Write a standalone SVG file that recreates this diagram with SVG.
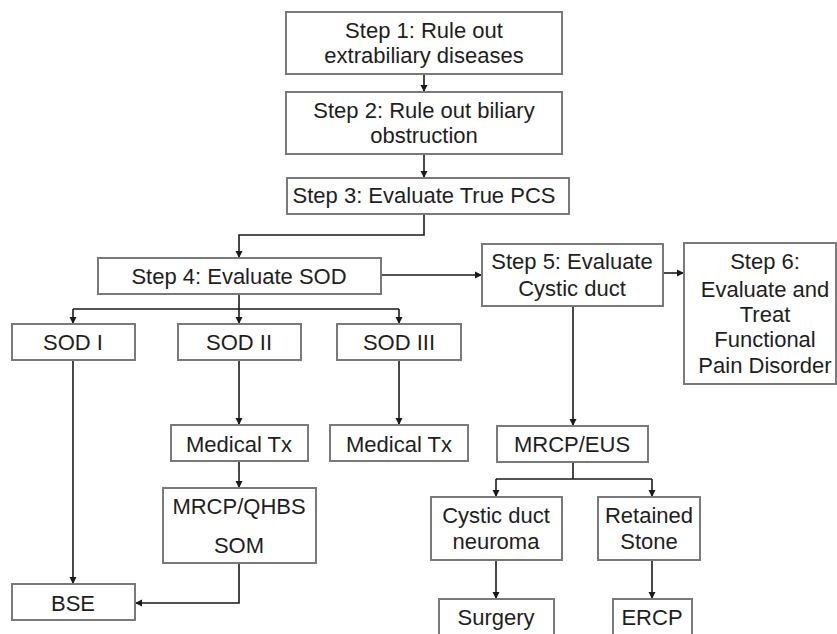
<svg xmlns="http://www.w3.org/2000/svg" width="837" height="634" viewBox="0 0 837 634">
<defs>
<marker id="ah" markerWidth="8" markerHeight="8" refX="7" refY="4" orient="auto" markerUnits="userSpaceOnUse">
<path d="M0,0.5 L7,4 L0,7.5 z" fill="#1a1a1a"/>
</marker>
<style>
.box{fill:#fff;stroke:#7a7a7a;stroke-width:2}
.t{font-family:"Liberation Sans",Arial,sans-serif;font-size:22px;fill:#1e1e1e;text-anchor:middle}
.c{fill:none;stroke:#1a1a1a;stroke-width:1.6;marker-end:url(#ah)}
.n{fill:none;stroke:#1a1a1a;stroke-width:1.6}
</style>
</defs>
<rect width="837" height="634" fill="#fff"/>
<g id="connectors">
<path class="c" d="M424,74 V92"/>
<path class="c" d="M424,154 V178"/>
<path class="c" d="M424,214 V235 H239 V258"/>
<path class="c" d="M381,275 H482"/>
<path class="c" d="M663,273 H684"/>
<path class="n" d="M239,294 V309"/>
<path class="n" d="M73,309 H399"/>
<path class="c" d="M73,309 V324"/>
<path class="c" d="M239,309 V324"/>
<path class="c" d="M399,309 V324"/>
<path class="c" d="M73,360 V584"/>
<path class="c" d="M239,360 V425"/>
<path class="c" d="M399,360 V425"/>
<path class="c" d="M239,461 V488"/>
<path class="c" d="M239,563 V603 H135"/>
<path class="c" d="M573,306 V426"/>
<path class="n" d="M573,462 V479"/>
<path class="n" d="M496,479 H652"/>
<path class="c" d="M496,479 V497"/>
<path class="c" d="M652,479 V497"/>
<path class="c" d="M496,560 V599"/>
<path class="c" d="M652,560 V599"/>
</g>
<g id="step1"><rect class="box" x="286" y="12" width="276" height="62"/><text class="t" x="424" y="38">Step 1: Rule out</text><text class="t" x="424" y="63">extrabiliary diseases</text></g>
<g id="step2"><rect class="box" x="286" y="92" width="276" height="62"/><text class="t" x="424" y="118">Step 2: Rule out biliary</text><text class="t" x="424" y="143">obstruction</text></g>
<g id="step3"><rect class="box" x="287" y="178" width="282" height="36"/><text class="t" x="424" y="203">Step 3: Evaluate True PCS</text></g>
<g id="step4"><rect class="box" x="98" y="258" width="283" height="36"/><text class="t" x="239" y="284">Step 4: Evaluate SOD</text></g>
<g id="step5"><rect class="box" x="482" y="244" width="181" height="62"/><text class="t" x="572" y="269">Step 5: Evaluate</text><text class="t" x="572" y="296">Cystic duct</text></g>
<g id="step6"><rect class="box" x="684" y="243" width="152" height="141"/><text class="t" x="765" y="269">Step 6:</text><text class="t" x="765" y="297">Evaluate and</text><text class="t" x="765" y="322">Treat</text><text class="t" x="765" y="347">Functional</text><text class="t" x="765" y="373">Pain Disorder</text></g>
<g id="sod1"><rect class="box" x="12" y="324" width="123" height="36"/><text class="t" x="73" y="350">SOD I</text></g>
<g id="sod2"><rect class="box" x="178" y="324" width="123" height="36"/><text class="t" x="239" y="350">SOD II</text></g>
<g id="sod3"><rect class="box" x="337" y="324" width="124" height="36"/><text class="t" x="399" y="350">SOD III</text></g>
<g id="medtx2"><rect class="box" x="171" y="425" width="137" height="36"/><text class="t" x="239" y="452">Medical Tx</text></g>
<g id="medtx3"><rect class="box" x="330" y="425" width="138" height="36"/><text class="t" x="399" y="452">Medical Tx</text></g>
<g id="mrcpqhbs"><rect class="box" x="163" y="488" width="153" height="75"/><text class="t" x="239" y="514">MRCP/QHBS</text><text class="t" x="239" y="553">SOM</text></g>
<g id="bse"><rect class="box" x="12" y="584" width="123" height="36"/><text class="t" x="73" y="611">BSE</text></g>
<g id="mrcpeus"><rect class="box" x="497" y="426" width="151" height="36"/><text class="t" x="572" y="452">MRCP/EUS</text></g>
<g id="neuroma"><rect class="box" x="431" y="497" width="131" height="63"/><text class="t" x="496" y="523">Cystic duct</text><text class="t" x="496" y="549">neuroma</text></g>
<g id="stone"><rect class="box" x="598" y="497" width="102" height="63"/><text class="t" x="649" y="523">Retained</text><text class="t" x="649" y="549">Stone</text></g>
<g id="surgery"><rect class="box" x="439" y="599" width="115" height="42"/><text class="t" x="496" y="625">Surgery</text></g>
<g id="ercp"><rect class="box" x="613" y="599" width="79" height="42"/><text class="t" x="652" y="625">ERCP</text></g>
</svg>
